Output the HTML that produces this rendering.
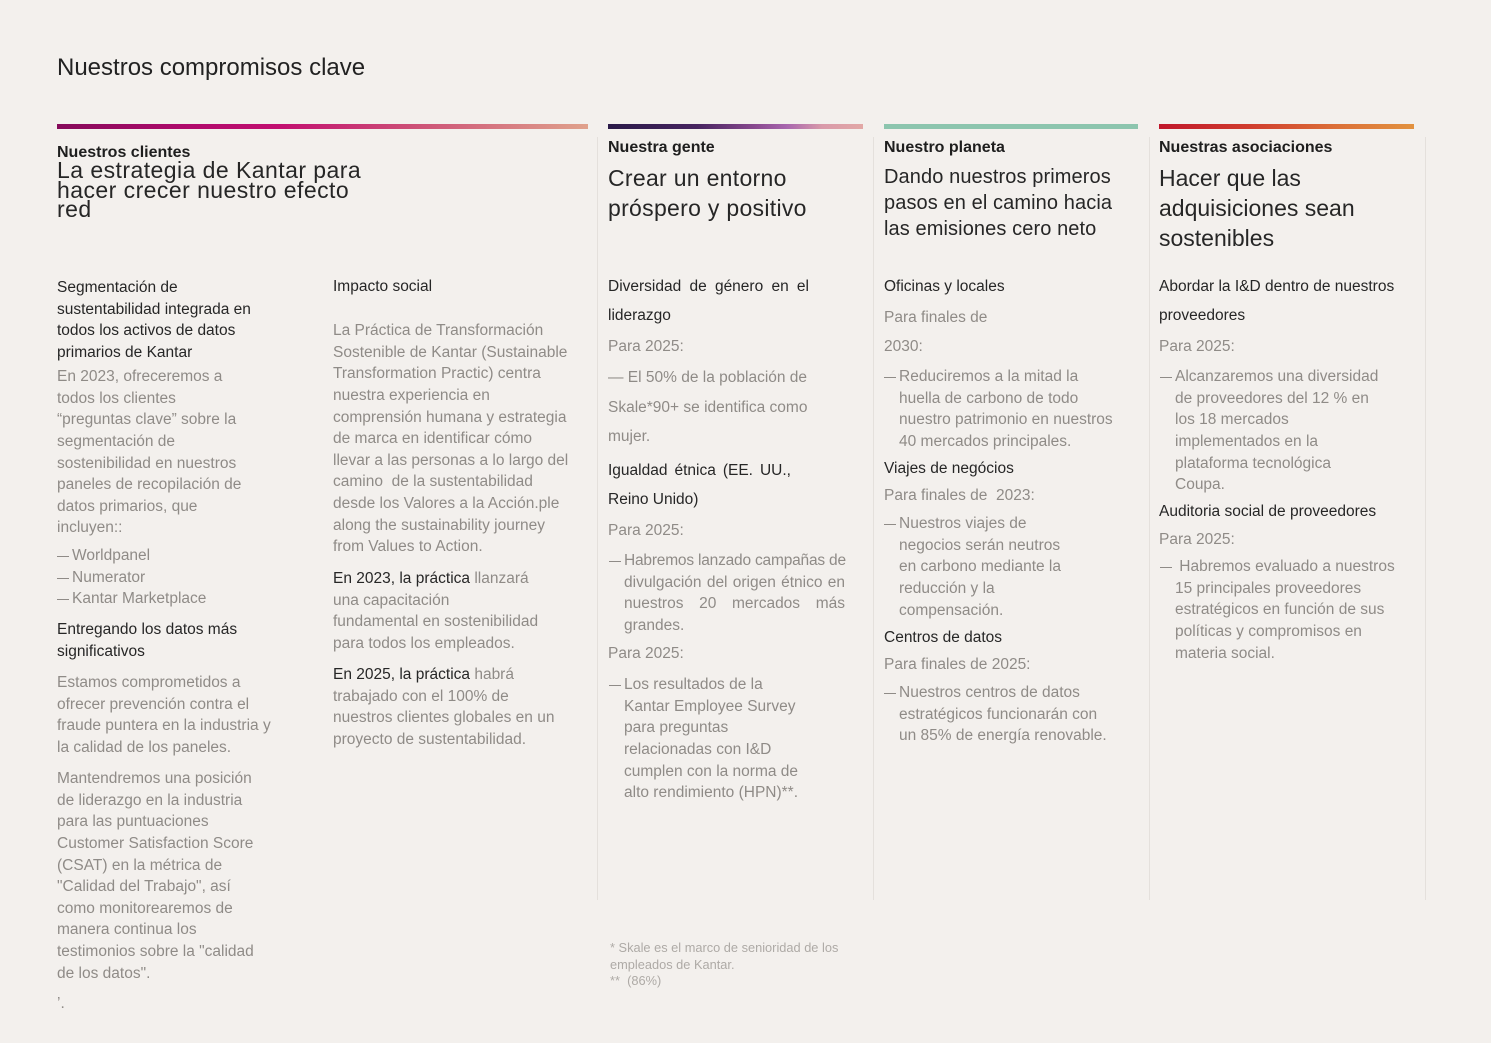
<!DOCTYPE html>
<html><head><meta charset="utf-8">
<style>
html,body{margin:0;padding:0}
body{background:#f3f0ed;width:1491px;height:1043px;position:relative;overflow:hidden;font-family:"Liberation Sans",sans-serif}
.a{position:absolute;white-space:nowrap}
.t{font-size:15.5px;line-height:21.6px;margin-top:2px}
.k{color:#262626}
.g{color:#8f8b87}
.l::before{content:"";position:absolute;left:-15px;top:11px;width:12px;height:1px;background:#8f8b87}
.j{text-align:justify;text-align-last:justify;white-space:normal}
.h{font-size:16px;line-height:20px;font-weight:bold;color:#1e1e1e;margin-top:1px}
.bar{position:absolute;top:124px;height:5px}
.v{position:absolute;top:137px;height:763px;width:1px;background:#e4e0dc}
.sub{color:#262626}
</style></head><body>

<div class="a" style="left:57px;top:55.7px;font-size:24px;line-height:24px;color:#222">Nuestros compromisos clave</div>

<div class="bar" style="left:57px;width:531px;background:linear-gradient(90deg,#850a5a 0%,#b00a6c 25%,#c20f70 42%,#cd5277 68%,#e0a28c 100%)"></div>
<div class="bar" style="left:608px;width:255px;background:linear-gradient(90deg,#2a1a48 0%,#472460 35%,#8a4a90 58%,#a866ae 70%,#d99aaa 84%,#e2a8a6 100%)"></div>
<div class="bar" style="left:884px;width:254px;background:#8cc5ae"></div>
<div class="bar" style="left:1159px;width:255px;background:linear-gradient(90deg,#c0172b 0%,#d03c2e 35%,#dc7038 70%,#e2923f 100%)"></div>

<div class="v" style="left:597px"></div>
<div class="v" style="left:873px"></div>
<div class="v" style="left:1149px"></div>
<div class="v" style="left:1425px"></div>

<!-- headings -->
<div class="a h" style="left:57px;top:141.5px">Nuestros clientes</div>
<div class="a h" style="left:608px;top:136.5px">Nuestra gente</div>
<div class="a h" style="left:884px;top:136.5px">Nuestro planeta</div>
<div class="a h" style="left:1159px;top:136.5px">Nuestras asociaciones</div>

<div class="a sub" style="left:57px;top:161px;font-size:23px;line-height:19.5px;letter-spacing:0.45px">La estrategia de Kantar para<br>hacer crecer nuestro efecto<br>red</div>
<div class="a sub" style="left:608px;top:163px;font-size:23px;line-height:30px;letter-spacing:0.3px">Crear un entorno<br>próspero y positivo</div>
<div class="a sub" style="left:884px;top:164px;font-size:20px;line-height:26px;letter-spacing:0.1px">Dando nuestros primeros<br>pasos en el camino hacia<br>las emisiones cero neto</div>
<div class="a sub" style="left:1159px;top:163px;font-size:23px;line-height:30px">Hacer que las<br>adquisiciones sean<br>sostenibles</div>

<!-- column 1 -->
<div class="a t k" style="left:57px;top:275.3px">Segmentación de<br>sustentabilidad integrada en<br>todos los activos de datos<br>primarios de Kantar</div>
<div class="a t g" style="left:57px;top:364.3px">En 2023, ofreceremos a<br>todos los clientes<br>“preguntas clave” sobre la<br>segmentación de<br>sostenibilidad en nuestros<br>paneles de recopilación de<br>datos primarios, que<br>incluyen::</div>
<div class="a t g l" style="left:72px;top:543.3px">Worldpanel</div>
<div class="a t g l" style="left:72px;top:565.3px">Numerator</div>
<div class="a t g l" style="left:72px;top:586.3px">Kantar Marketplace</div>
<div class="a t k" style="left:57px;top:617.3px">Entregando los datos más<br>significativos</div>
<div class="a t g" style="left:57px;top:670.3px">Estamos comprometidos a<br>ofrecer prevención contra el<br>fraude puntera en la industria y<br>la calidad de los paneles.</div>
<div class="a t g" style="left:57px;top:766.3px">Mantendremos una posición<br>de liderazgo en la industria<br>para las puntuaciones<br>Customer Satisfaction Score<br>(CSAT) en la métrica de<br>"Calidad del Trabajo", así<br>como monitorearemos de<br>manera continua los<br>testimonios sobre la "calidad<br>de los datos".</div>
<div class="a t g" style="left:57px;top:991.3px">’.</div>

<!-- column 2 -->
<div class="a t k" style="left:333px;top:274.3px">Impacto social</div>
<div class="a t g" style="left:333px;top:318.3px">La Práctica de Transformación<br>Sostenible de Kantar (Sustainable<br>Transformation Practic) centra<br>nuestra experiencia en<br>comprensión humana y estrategia<br>de marca en identificar cómo<br>llevar a las personas a lo largo del<br>camino&nbsp; de la sustentabilidad<br>desde los Valores a la Acción.ple<br>along the sustainability journey<br>from Values to Action.</div>
<div class="a t g" style="left:333px;top:566.3px"><span class="k">En 2023, la práctica</span> llanzará<br>una capacitación<br>fundamental en sostenibilidad<br>para todos los empleados.</div>
<div class="a t g" style="left:333px;top:662.3px"><span class="k">En 2025, la práctica</span> habrá<br>trabajado con el 100% de<br>nuestros clientes globales en un<br>proyecto de sustentabilidad.</div>

<!-- column 3 -->
<div class="a t k j" style="left:608px;top:274.3px;width:201px">Diversidad de género en el</div>
<div class="a t k" style="left:608px;top:303.3px">liderazgo</div>
<div class="a t g" style="left:608px;top:334.3px">Para 2025:</div>
<div class="a t g" style="left:608px;top:365.3px">—&nbsp;El 50% de la población de</div>
<div class="a t g" style="left:608px;top:395.3px">Skale*90+ se identifica como</div>
<div class="a t g" style="left:608px;top:424.3px">mujer.</div>
<div class="a t k j" style="left:608px;top:458.3px;width:183px">Igualdad étnica (EE. UU.,</div>
<div class="a t k" style="left:608px;top:487.3px">Reino Unido)</div>
<div class="a t g" style="left:608px;top:518.3px">Para 2025:</div>
<div class="a t g l" style="left:624px;top:548.3px;letter-spacing:-0.2px">Habremos lanzado campañas de</div>
<div class="a t g j" style="left:624px;top:570.3px;width:221px">divulgación del origen étnico en</div>
<div class="a t g j" style="left:624px;top:591.3px;width:221px">nuestros 20 mercados más</div>
<div class="a t g" style="left:624px;top:613.3px">grandes.</div>
<div class="a t g" style="left:608px;top:641.3px">Para 2025:</div>
<div class="a t g l" style="left:624px;top:672.3px">Los resultados de la<br>Kantar Employee Survey<br>para preguntas<br>relacionadas con I&amp;D<br>cumplen con la norma de<br>alto rendimiento (HPN)**.</div>

<div class="a" style="left:610px;top:940px;font-size:12.8px;line-height:16.5px;color:#aeaaa6">* Skale es el marco de senioridad de los<br>empleados de Kantar.<br>**&nbsp; (86%)</div>

<!-- column 4 -->
<div class="a t k" style="left:884px;top:274.3px">Oficinas y locales</div>
<div class="a t g" style="left:884px;top:305.3px">Para finales de</div>
<div class="a t g" style="left:884px;top:334.3px">2030:</div>
<div class="a t g l" style="left:899px;top:364.3px">Reduciremos a la mitad la<br>huella de carbono de todo<br>nuestro patrimonio en nuestros<br>40 mercados principales.</div>
<div class="a t k" style="left:884px;top:456.3px">Viajes de negócios</div>
<div class="a t g" style="left:884px;top:483.3px">Para finales de&nbsp; 2023:</div>
<div class="a t g l" style="left:899px;top:511.3px">Nuestros viajes de<br>negocios serán neutros<br>en carbono mediante la<br>reducción y la<br>compensación.</div>
<div class="a t k" style="left:884px;top:625.3px">Centros de datos</div>
<div class="a t g" style="left:884px;top:652.3px">Para finales de 2025:</div>
<div class="a t g l" style="left:899px;top:680.3px">Nuestros centros de datos<br>estratégicos funcionarán con<br>un 85% de energía renovable.</div>

<!-- column 5 -->
<div class="a t k" style="left:1159px;top:274.3px">Abordar la I&amp;D dentro de nuestros</div>
<div class="a t k" style="left:1159px;top:303.3px">proveedores</div>
<div class="a t g" style="left:1159px;top:334.3px">Para 2025:</div>
<div class="a t g l" style="left:1175px;top:364.3px">Alcanzaremos una diversidad<br>de proveedores del 12 % en<br>los 18 mercados<br>implementados en la<br>plataforma tecnológica<br>Coupa.</div>
<div class="a t k" style="left:1159px;top:499.3px">Auditoria social de proveedores</div>
<div class="a t g" style="left:1159px;top:527.3px">Para 2025:</div>
<div class="a t g l" style="left:1175px;top:554.3px">&nbsp;Habremos evaluado a nuestros<br>15 principales proveedores<br>estratégicos en función de sus<br>políticas y compromisos en<br>materia social.</div>

</body></html>
